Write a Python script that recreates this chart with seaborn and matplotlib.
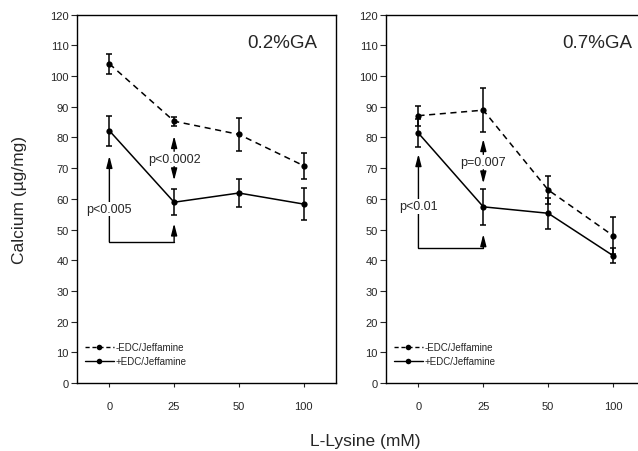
"""Calcium content vs L-lysine concentration for two GA crosslinking levels."""

import matplotlib

matplotlib.use("Agg")
import matplotlib.pyplot as plt
import pandas as pd
import seaborn as sns
from matplotlib.lines import Line2D

LYSINE_LABELS = ["0", "25", "50", "100"]
PANELS = ["0.2%GA", "0.7%GA"]
SERIES = ["-EDC/Jeffamine", "+EDC/Jeffamine"]

GA02_MINUS = [104.0, 85.3, 81.0, 70.8]
GA02_MINUS_ERR = [3.2, 1.5, 5.3, 4.2]
GA02_PLUS = [82.2, 58.9, 61.9, 58.3]
GA02_PLUS_ERR = [4.9, 4.3, 4.5, 5.2]

GA07_MINUS = [87.1, 88.9, 62.9, 48.0]
GA07_MINUS_ERR = [3.3, 7.2, 4.6, 6.0]
GA07_PLUS = [81.4, 57.4, 55.3, 41.5]
GA07_PLUS_ERR = [4.5, 5.8, 5.0, 2.5]

# significance annotations
P_LEFT = ["p<0.005", "p<0.01"]
P_MID = ["p<0.0002", "p=0.007"]
BRACKET_Y = [46, 44]
LEFT_TIP = [74, 74.6]
LEFT_TEXT_Y = [56.7, 57.6]
RIGHT_TIP = [52, 48.5]
MID_TEXT_Y = [73, 72]
MID_UP_TIP = [80.5, 79.5]
MID_DOWN_TIP = [66, 65]
LABEL_X = [3.21, 3.29]

FONT = ["Liberation Sans", "DejaVu Sans"]


def build_frame(minus, minus_err, plus, plus_err):
    rows = []
    for i, lab in enumerate(LYSINE_LABELS):
        rows.append({"pos": i, "lysine": lab, "series": SERIES[0], "ca": minus[i], "err": minus_err[i]})
        rows.append({"pos": i, "lysine": lab, "series": SERIES[1], "ca": plus[i], "err": plus_err[i]})
    return pd.DataFrame(rows)


def draw_panel(ax, df, idx):
    sns.lineplot(
        data=df, x="pos", y="ca", hue="series", style="series",
        palette={SERIES[0]: "black", SERIES[1]: "black"},
        dashes={SERIES[0]: (4, 3), SERIES[1]: ""},
        markers={SERIES[0]: "o", SERIES[1]: "o"},
        markersize=4.5, markeredgewidth=0, linewidth=1.1, legend=False, ax=ax,
    )
    for s in SERIES:
        sub = df[df["series"] == s]
        ax.errorbar(sub["pos"], sub["ca"], yerr=sub["err"], fmt="none",
                    ecolor="black", elinewidth=1.1, capsize=2.5, capthick=1.1)

    ax.set_ylim(0, 120)
    ax.set_xlim(-0.5, 3.5)
    ax.set_yticks(range(0, 121, 10))
    ax.set_xticks(range(len(LYSINE_LABELS)))
    ax.set_xticklabels(LYSINE_LABELS)
    ax.set_xlabel("")
    ax.set_ylabel("")
    ax.tick_params(axis="y", direction="out", length=4, width=0.8, pad=2, labelsize=8)
    ax.tick_params(axis="x", direction="out", length=3, width=0.8, pad=10, labelsize=8)
    for sp in ax.spines.values():
        sp.set_linewidth(1.0)
        sp.set_color("black")
    for lab in ax.get_xticklabels() + ax.get_yticklabels():
        lab.set_family(FONT)

    ax.text(LABEL_X[idx], 111, PANELS[idx], ha="right", va="center", fontsize=13.5, family=FONT)

    arrow = dict(arrowstyle="-|>,head_length=0.7,head_width=0.18", color="black",
                 lw=1.0, shrinkA=0, shrinkB=0, mutation_scale=10)
    by = BRACKET_Y[idx]
    ax.plot([0, 1], [by, by], color="black", lw=1.0)
    ax.annotate("", xy=(0, LEFT_TIP[idx]), xytext=(0, by), arrowprops=arrow)
    ax.annotate("", xy=(1, RIGHT_TIP[idx]), xytext=(1, by), arrowprops=arrow)
    ax.text(0, LEFT_TEXT_Y[idx], P_LEFT[idx], ha="center", va="center", fontsize=9,
            family=FONT, bbox=dict(facecolor="white", edgecolor="none", pad=1))
    my = MID_TEXT_Y[idx]
    ax.annotate("", xy=(1, MID_UP_TIP[idx]), xytext=(1, my + 2.5), arrowprops=arrow)
    ax.annotate("", xy=(1, MID_DOWN_TIP[idx]), xytext=(1, my - 2.5), arrowprops=arrow)
    ax.text(1, my, P_MID[idx], ha="center", va="center", fontsize=9, family=FONT)

    handles = [
        Line2D([], [], color="black", lw=1.0, dashes=(3, 2), marker="o", markersize=4, markeredgewidth=0),
        Line2D([], [], color="black", lw=1.0, marker="o", markersize=4, markeredgewidth=0),
    ]
    leg = ax.legend(handles, SERIES, loc="lower left", bbox_to_anchor=(0.03, 0.045),
                    frameon=False, fontsize=7, handlelength=3.0, handletextpad=0.2,
                    labelspacing=0.45, borderpad=0, borderaxespad=0)
    for t in leg.get_texts():
        t.set_family(FONT)


def main() -> None:
    sns.set_style("ticks")
    plt.rcParams["font.family"] = FONT

    fig = plt.figure(figsize=(6.38, 4.52), dpi=100)
    H = 452.0
    W = 638.0
    bottom = (H - 384) / H
    height = (384 - 15.7) / H
    ax1 = fig.add_axes([77 / W, bottom, (336 - 77) / W, height])
    ax2 = fig.add_axes([386 / W, bottom, (645.5 - 386) / W, height])

    draw_panel(ax1, build_frame(GA02_MINUS, GA02_MINUS_ERR, GA02_PLUS, GA02_PLUS_ERR), 0)
    draw_panel(ax2, build_frame(GA07_MINUS, GA07_MINUS_ERR, GA07_PLUS, GA07_PLUS_ERR), 1)

    fig.text(20 / W, 1 - 200 / H, "Calcium (\u00b5g/mg)", rotation=90, ha="center",
             va="center", fontsize=12.5, family=FONT)
    fig.text(365 / W, 1 - 442 / H, "L-Lysine (mM)", ha="center", va="center",
             fontsize=12.5, family=FONT)

    fig.savefig("out.png", dpi=100)
    plt.close(fig)


if __name__ == "__main__":
    main()
